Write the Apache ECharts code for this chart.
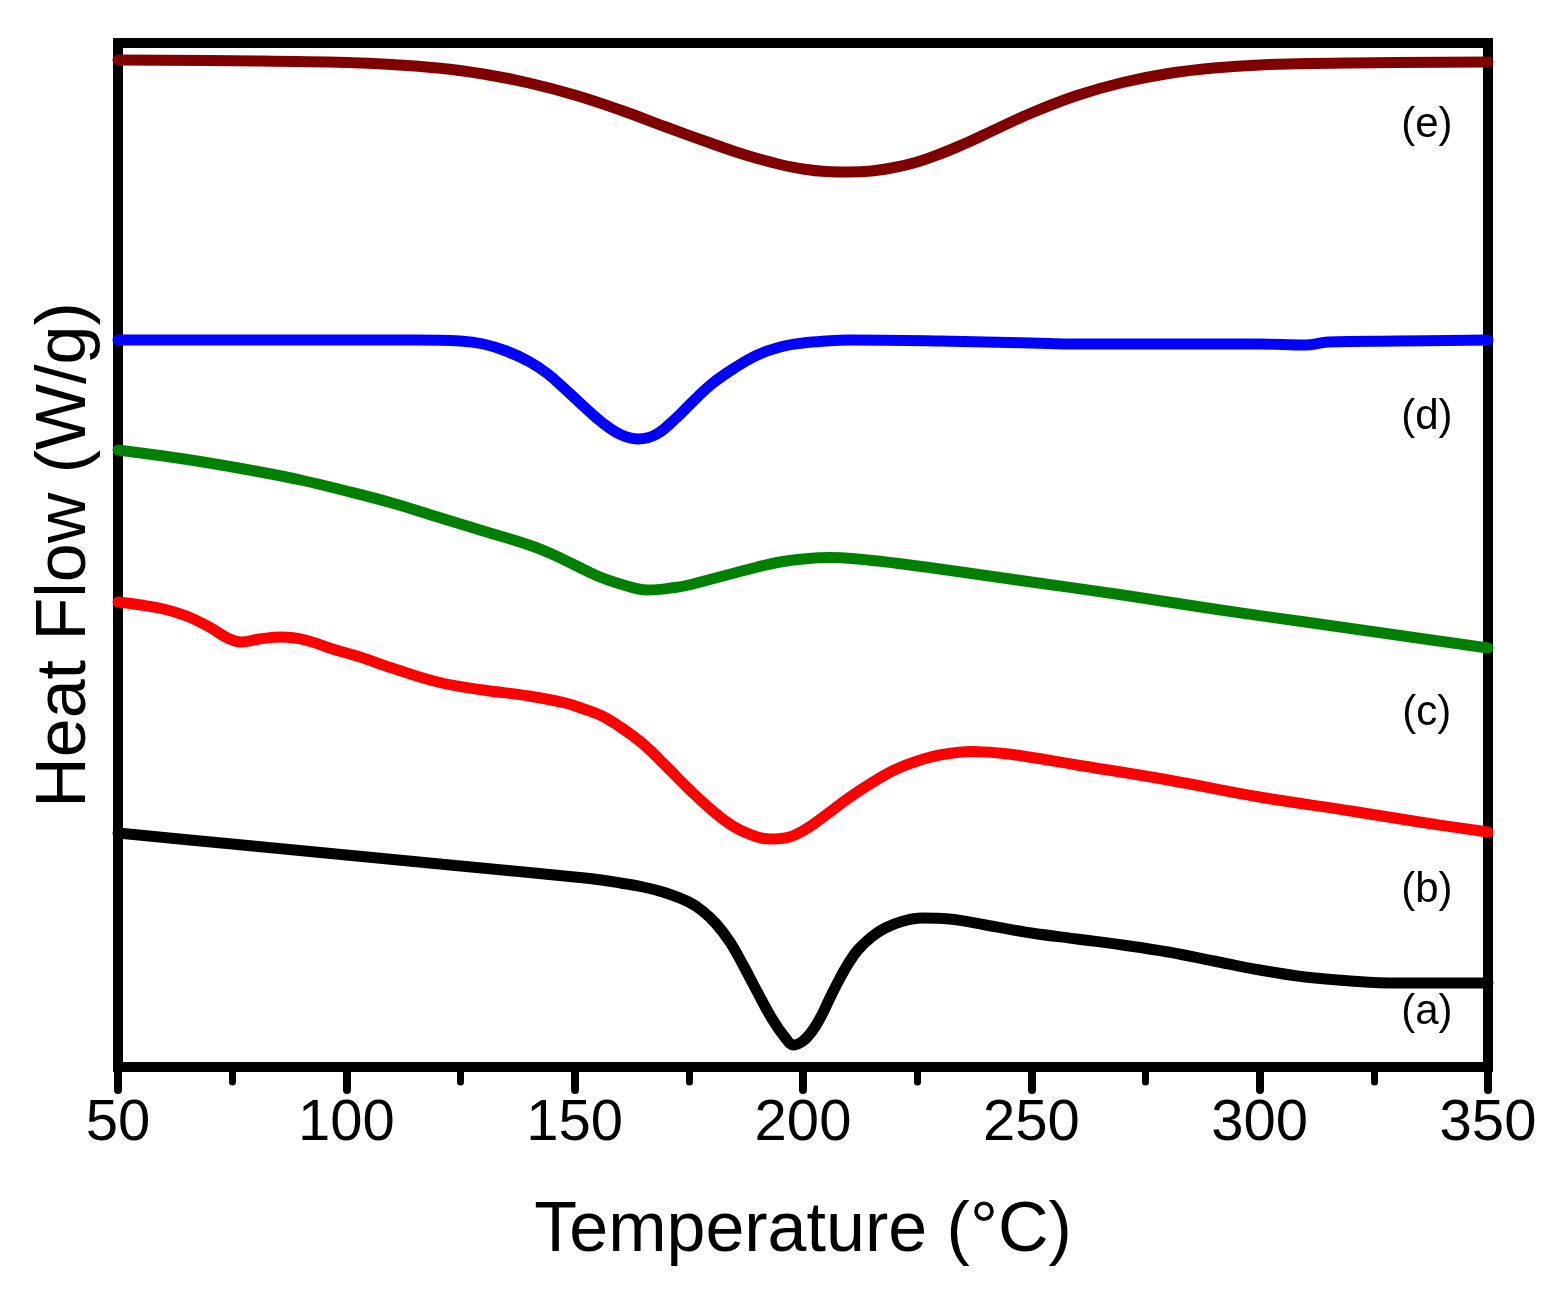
<!DOCTYPE html>
<html>
<head>
<meta charset="utf-8">
<script src="https://cdn.jsdelivr.net/npm/echarts@6/dist/echarts.min.js"></script>
<style>
html,body{margin:0;padding:0;background:#fff;}
#chart{width:1546px;height:1306px;}
</style>
</head>
<body>
<div id="chart"></div>
<script>
// Temperature (°C) and heat flow (arbitrary offset units)
const tempE = [50,80,100,110,120,130,140,150,160,170,180,185,190,195,200,205,210,215,220,225,230,235,240,250,260,270,280,290,300,320,350];
const flowE = [100.7,100.6,100.45,100.25,99.9,99.3,98.4,97.2,95.7,94.0,92.35,91.55,90.85,90.25,89.8,89.55,89.5,89.6,89.95,90.5,91.3,92.25,93.3,95.4,97.15,98.45,99.35,99.9,100.2,100.4,100.5];

const tempD = [50,100,115,125,130,135,140,144,148,152,156,160,164,168,172,176,180,185,190,195,200,205,210,230,250,260,280,300,310,315,330,350];
const flowD = [72.7,72.7,72.7,72.6,72.3,71.6,70.55,69.35,67.75,66.05,64.45,63.25,62.8,63.3,64.8,66.6,68.3,69.9,71.2,72.0,72.4,72.6,72.7,72.6,72.4,72.3,72.3,72.3,72.2,72.5,72.6,72.7];

const tempC = [50,60,70,80,90,100,110,120,130,140,145,150,155,160,166,172,175,180,185,190,195,200,206,212,220,230,250,270,290,310,330,350];
const flowC = [61.7,61.1,60.4,59.6,58.7,57.6,56.4,55.0,53.6,52.2,51.3,50.2,49.1,48.3,47.7,47.95,48.2,48.8,49.4,50.0,50.5,50.8,50.95,50.8,50.4,49.8,48.5,47.2,45.8,44.5,43.2,41.9];

const tempB = [50,55,60,65,70,74,77,81,86,91,97,103,110,120,130,140,148,152,156,160,165,170,175,180,185,190,193,197,201,205,210,215,220,225,230,237,245,260,280,300,320,335,350];
const flowB = [46.5,46.2,45.8,45.1,44.0,42.9,42.5,42.8,43.0,42.7,41.8,41.0,39.9,38.5,37.7,37.1,36.4,35.8,35.1,34.0,32.3,30.1,27.8,25.7,24.0,23.0,22.8,23.0,23.9,25.2,26.9,28.4,29.7,30.6,31.2,31.55,31.3,30.2,28.7,27.0,25.6,24.5,23.5];

const tempA = [50,75,100,125,140,150,155,160,165,170,175,178,181,184,187,190,193,196,198,200,202,204,206,208,210,212,215,218,222,226,232,240,250,260,270,280,290,300,310,320,330,350];
const flowA = [23.4,22.3,21.2,20.1,19.45,19.0,18.75,18.4,18.0,17.4,16.5,15.6,14.3,12.5,10.1,7.5,5.0,3.0,2.2,2.6,3.6,5.1,7.0,8.8,10.4,11.7,13.0,13.9,14.6,14.9,14.8,14.2,13.4,12.8,12.2,11.5,10.6,9.7,9.0,8.6,8.4,8.4];

const curveNames = ['(a)','(b)','(c)','(d)','(e)'];
const labelTemp = [336.6,336.6,336.6,336.6,336.6];
const labelFlow = [5.5,17.7,35.4,65.0,94.2];

const xTicks = [50,100,150,200,250,300,350];

function pairs(xs, ys){ return xs.map((x,i)=>[x, ys[i]]); }

const colors = ['#000000','#ff0000','#008000','#0000ff','#800000'];
const temps = [tempA,tempB,tempC,tempD,tempE];
const flows = [flowA,flowB,flowC,flowD,flowE];

const series = temps.map((t,i)=>({
  type:'line',
  name: curveNames[i],
  data: pairs(t, flows[i]),
  smooth: 0.4,
  showSymbol:false,
  symbol:'none',
  lineStyle:{color:colors[i], width:11, cap:'round', join:'round'},
  z: 3
}));

series.push({
  type:'scatter',
  symbolSize:0,
  itemStyle:{opacity:1},
  data: labelTemp.map((x,i)=>({value:[x,labelFlow[i]], name:curveNames[i]})),
  label:{show:true, position:'inside', formatter: p=>p.name, color:'#000', opacity:1, fontSize:42, textBorderWidth:0,
         fontFamily:'Liberation Sans, Arial, sans-serif'},
  silent:true,
  z:4
});

const chart = echarts.init(document.getElementById('chart'), null, {renderer:'canvas'});
chart.setOption({
  backgroundColor:'#fff',
  animation:false,
  grid:{left:118, right:58, top:43, bottom:239, containLabel:false, outerBoundsMode:'none',
        show:true, borderColor:'#000', borderWidth:10, backgroundColor:'transparent'},
  xAxis:{
    type:'value', min:50, max:350, interval:50,
    name:'Temperature (°C)', nameLocation:'middle', nameGap:130,
    nameTextStyle:{fontSize:70, color:'#000', fontFamily:'Liberation Sans, Arial, sans-serif'},
    axisLine:{show:true, lineStyle:{color:'#000', width:10, cap:'round'}},
    axisTick:{show:true, inside:false, length:23, lineStyle:{color:'#000', width:8, cap:'round'}},
    minorTick:{show:true, splitNumber:2, length:15, lineStyle:{color:'#000', width:7, cap:'round'}},
    splitLine:{show:false},
    axisLabel:{show:true, fontSize:58, color:'#000', margin:28, fontFamily:'Liberation Sans, Arial, sans-serif',
      formatter: v => xTicks.includes(v) ? String(v) : ''}
  },
  yAxis:{
    type:'value', min:0, max:102.4,
    name:'Heat Flow (W/g)', nameLocation:'middle', nameGap:17,
    nameTextStyle:{fontSize:70, color:'#000', fontFamily:'Liberation Sans, Arial, sans-serif'},
    axisLine:{show:true, lineStyle:{color:'#000', width:10}},
    axisTick:{show:false},
    axisLabel:{show:false},
    splitLine:{show:false}
  },
  series: series
});
</script>
</body>
</html>
